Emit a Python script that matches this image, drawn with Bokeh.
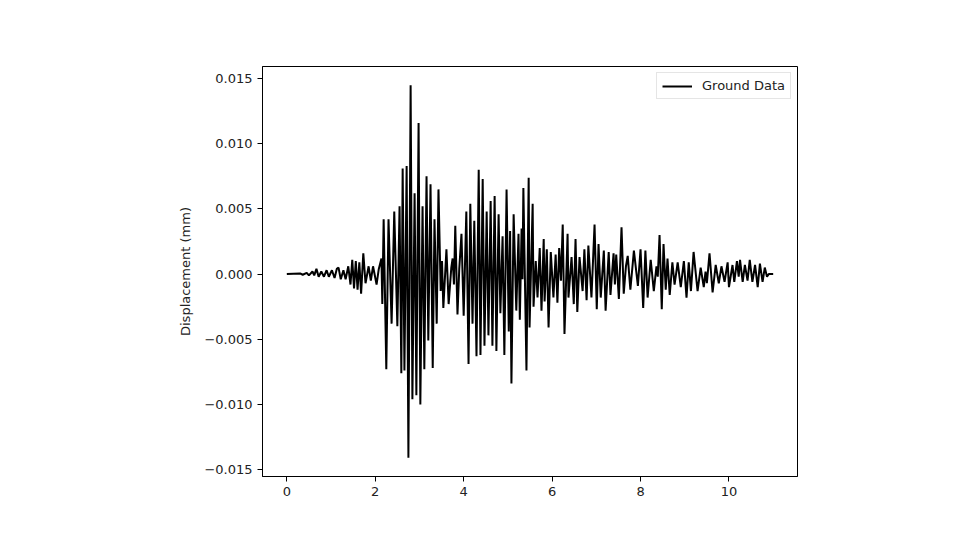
from bokeh.plotting import figure
from bokeh.models import Range1d, FixedTicker, Legend, LegendItem
from bokeh.embed import file_html
from bokeh.resources import INLINE

# time (s) and displacement (mm)
time = [0.00, 0.30, 0.36, 0.45, 0.50, 0.58, 0.62, 0.67, 0.72, 0.78, 0.84, 0.90, 0.95,
        1.02, 1.08, 1.13, 1.17, 1.22, 1.28, 1.33, 1.39, 1.44, 1.48, 1.52, 1.56, 1.60,
        1.64, 1.68, 1.73, 1.78, 1.85, 1.90, 1.95, 2.03, 2.08, 2.14, 2.16, 2.19, 2.25,
        2.30, 2.37, 2.43, 2.50, 2.55, 2.59, 2.62, 2.66, 2.71, 2.75, 2.80, 2.84, 2.89,
        2.93, 2.98, 3.02, 3.07, 3.11, 3.16, 3.20, 3.25, 3.30, 3.34, 3.39, 3.43, 3.48,
        3.51, 3.54, 3.61, 3.66, 3.72, 3.75, 3.78, 3.81, 3.86, 3.90, 3.95, 4.00, 4.06,
        4.11, 4.15, 4.20, 4.24, 4.29, 4.34, 4.38, 4.43, 4.47, 4.52, 4.56, 4.61, 4.65,
        4.70, 4.74, 4.79, 4.83, 4.88, 4.92, 4.97, 5.02, 5.05, 5.08, 5.13, 5.19, 5.24,
        5.27, 5.31, 5.33, 5.35, 5.42, 5.47, 5.49, 5.56, 5.58, 5.63, 5.67, 5.72, 5.76,
        5.81, 5.83, 5.88, 5.92, 5.97, 6.03, 6.08, 6.12, 6.16, 6.20, 6.24, 6.28, 6.35,
        6.37, 6.44, 6.49, 6.53, 6.57, 6.62, 6.69, 6.73, 6.78, 6.82, 6.89, 6.96, 7.01,
        7.05, 7.10, 7.17, 7.21, 7.28, 7.32, 7.39, 7.42, 7.45, 7.51, 7.57, 7.62, 7.67,
        7.71, 7.77, 7.85, 7.94, 8.00, 8.06, 8.11, 8.16, 8.23, 8.30, 8.36, 8.39, 8.43,
        8.48, 8.52, 8.57, 8.61, 8.66, 8.72, 8.77, 8.84, 8.91, 8.98, 9.04, 9.09, 9.14,
        9.20, 9.29, 9.36, 9.43, 9.47, 9.50, 9.56, 9.63, 9.70, 9.77, 9.83, 9.90, 9.97,
        10.00, 10.08, 10.12, 10.18, 10.22, 10.25, 10.31, 10.36, 10.42, 10.47, 10.53,
        10.59, 10.65, 10.70, 10.76, 10.81, 10.86, 10.90, 11.00]

displacement = [0.0, 0.00005, -0.00005, 0.0001, -0.0001, 0.0002, -0.0001, 0.0004, -0.0002,
                0.0002, -0.0002, 0.0003, -0.0002, 0.0003, -0.0003, 0.0004, 0.0005, -0.0004,
                0.0003, -0.0004, 0.0006, -0.0008, 0.0011, -0.0011, 0.0010, -0.0012, 0.0009,
                -0.0015, 0.0016, -0.0007, 0.0006, -0.0005, 0.0006, -0.0008, 0.0004, 0.0012,
                -0.0023, 0.0042, -0.0073, 0.0042, -0.0038, 0.0048, -0.0040, 0.0052, -0.0076,
                0.0081, -0.0074, 0.0083, -0.0141, 0.0145, -0.0096, 0.0062, -0.0093, 0.0116,
                -0.0100, 0.0052, -0.0073, 0.0075, -0.0051, 0.0069, -0.0072, 0.0042, -0.0038,
                0.0065, -0.0013, 0.0010, -0.0026, 0.0019, -0.0023, 0.0005, 0.0012, -0.0008,
                0.0037, -0.0031, 0.0004, 0.0031, -0.0032, 0.0048, -0.0069, 0.0054, -0.0038,
                0.0041, -0.0063, 0.0080, -0.0062, 0.0073, -0.0055, 0.0048, -0.0047, 0.0056,
                -0.0055, 0.0060, -0.0059, 0.0046, -0.0030, 0.0029, -0.0062, 0.0065, -0.0044,
                0.0033, -0.0084, 0.0046, -0.0028, 0.0031, -0.0035, 0.0035, -0.0004, 0.0066,
                -0.0074, 0.0074, -0.0041, 0.0054, -0.0025, 0.0010, -0.0018, 0.0020, -0.0028,
                0.0027, -0.0021, 0.0019, -0.0041, 0.0017, -0.0018, 0.0015, -0.0022, 0.0020,
                -0.0005, 0.0038, -0.0046, 0.0031, -0.0018, 0.0013, -0.0023, 0.0027, -0.0029,
                0.0013, -0.0013, 0.0019, -0.0020, 0.0022, -0.0018, 0.0038, -0.0027, 0.0023,
                -0.0018, 0.0018, -0.0028, 0.0017, -0.0016, 0.0016, -0.0008, 0.0015, -0.0019,
                0.0036, -0.0015, 0.0006, 0.0014, -0.0012, 0.0018, -0.0009, 0.0019, -0.0026,
                0.0018, -0.0018, 0.0011, -0.0013, 0.0006, -0.0002, 0.0030, -0.0027, 0.0023,
                -0.0012, 0.0012, -0.0016, 0.0009, -0.0008, 0.0009, -0.0010, 0.0010, -0.0018,
                0.0009, -0.0013, 0.0017, -0.0013, 0.0005, -0.0010, 0.0002, -0.0007, 0.0016,
                -0.0014, 0.0007, -0.0007, 0.0006, -0.0006, 0.0009, -0.0010, 0.0007, -0.0006,
                0.0010, -0.0002, 0.0011, -0.0006, 0.0007, -0.0005, 0.0011, -0.0006, 0.0007,
                -0.0010, 0.0008, -0.0006, 0.0005, -0.0002, 0.0000, 0.0000]

x_ticks = [0, 2, 4, 6, 8, 10]
y_ticks = [-0.015, -0.010, -0.005, 0.0, 0.005, 0.010, 0.015]
y_tick_labels = ["\u22120.015", "\u22120.010", "\u22120.005", "0.000", "0.005", "0.010", "0.015"]

FONT = "DejaVu Sans"

p = figure(width=964, height=535, output_backend="svg", toolbar_location=None,
           x_range=Range1d(-0.55, 11.55), y_range=Range1d(-0.01553, 0.01593),
           min_border_left=262, min_border_right=167, min_border_top=66, min_border_bottom=59)

r = p.line(time, displacement, line_color="black", line_width=2)

p.xgrid.visible = False
p.ygrid.visible = False
p.outline_line_color = "black"
p.outline_line_width = 1
p.background_fill_color = "white"
p.border_fill_color = "white"

for ax in (p.xaxis[0], p.yaxis[0]):
    ax.major_tick_in = 0
    ax.major_tick_out = 5
    ax.minor_tick_line_color = None
    ax.axis_line_color = "black"
    ax.major_tick_line_color = "black"
    ax.major_label_text_font = FONT
    ax.major_label_text_font_size = "13px"
    ax.major_label_text_color = "#222222"
    ax.major_label_standoff = 5

p.xaxis[0].ticker = FixedTicker(ticks=x_ticks)
p.yaxis[0].ticker = FixedTicker(ticks=y_ticks)
p.yaxis[0].major_label_overrides = {t: l for t, l in zip(y_ticks, y_tick_labels)}
p.yaxis[0].axis_label = "Displacement (mm)"
p.yaxis[0].axis_label_text_font = FONT
p.yaxis[0].axis_label_text_font_size = "13px"
p.yaxis[0].axis_label_text_font_style = "normal"
p.yaxis[0].axis_label_text_color = "#222222"
p.yaxis[0].axis_label_standoff = 8

legend = Legend(items=[LegendItem(label="Ground Data", renderers=[r])],
                location="top_right", label_text_font=FONT, label_text_font_size="13px",
                label_text_color="#222222", border_line_color="#cccccc", border_line_width=1,
                glyph_width=30, glyph_height=14, label_standoff=10, padding=5, spacing=0,
                margin=6, label_height=14, background_fill_alpha=0.8)
p.add_layout(legend)

open("out.html", "w").write(file_html(p, INLINE))
